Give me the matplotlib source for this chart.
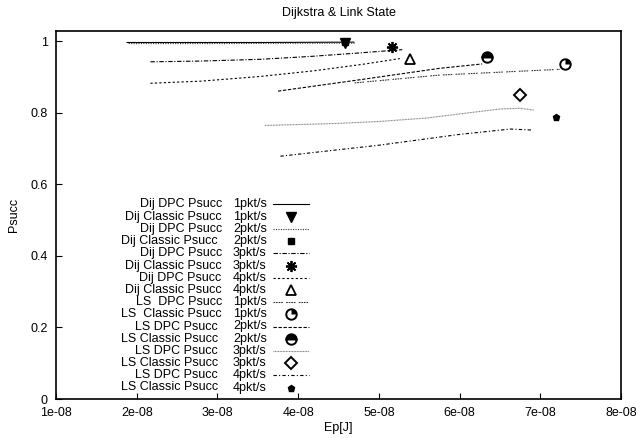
import matplotlib
matplotlib.use("Agg")
import matplotlib.pyplot as plt
from matplotlib.path import Path
from matplotlib.lines import Line2D

plt.rcParams['font.family'] = ['Liberation Sans', 'DejaVu Sans']
plt.rcParams['font.size'] = 9

# ---------------- data ----------------
dij_dpc1_x = [1.88e-8, 2.5e-8, 3.5e-8, 4.69e-8]
dij_dpc1_y = [0.997, 0.997, 0.997, 0.998]
dij_cls1_x = [4.58e-8]
dij_cls1_y = [0.996]

dij_dpc2_x = [1.90e-8, 3.0e-8, 4.0e-8, 4.70e-8]
dij_dpc2_y = [0.994, 0.994, 0.995, 0.995]
dij_cls2_x = [4.58e-8]
dij_cls2_y = [0.998]

dij_dpc3_x = [2.17e-8, 2.78e-8, 3.53e-8, 4.15e-8, 4.77e-8, 5.29e-8]
dij_dpc3_y = [0.943, 0.945, 0.950, 0.958, 0.968, 0.977]
dij_cls3_x = [5.16e-8]
dij_cls3_y = [0.985]

dij_dpc4_x = [2.17e-8, 2.8e-8, 3.53e-8, 4.2e-8, 4.8e-8, 5.26e-8]
dij_dpc4_y = [0.883, 0.889, 0.902, 0.918, 0.936, 0.952]
dij_cls4_x = [5.39e-8]
dij_cls4_y = [0.952]

ls_dpc1_x = [4.70e-8, 5.76e-8, 6.50e-8, 7.245e-8]
ls_dpc1_y = [0.884, 0.906, 0.914, 0.922]
ls_cls1_x = [7.31e-8]
ls_cls1_y = [0.936]

ls_dpc2_x = [3.75e-8, 4.77e-8, 5.76e-8, 6.28e-8]
ls_dpc2_y = [0.861, 0.893, 0.925, 0.937]
ls_cls2_x = [6.34e-8]
ls_cls2_y = [0.957]

ls_dpc3_x = [3.59e-8, 4.4e-8, 5.0e-8, 5.6e-8, 6.1e-8, 6.5e-8, 6.75e-8, 6.92e-8]
ls_dpc3_y = [0.765, 0.770, 0.776, 0.786, 0.800, 0.811, 0.813, 0.808]
ls_cls3_x = [6.75e-8]
ls_cls3_y = [0.850]

ls_dpc4_x = [3.78e-8, 5.01e-8, 6.0e-8, 6.63e-8, 6.91e-8]
ls_dpc4_y = [0.679, 0.710, 0.740, 0.755, 0.752]
ls_cls4_x = [7.20e-8]
ls_cls4_y = [0.789]

x_ticks = [1e-8, 2e-8, 3e-8, 4e-8, 5e-8, 6e-8, 7e-8, 8e-8]
x_tick_labels = ['1e-08', '2e-08', '3e-08', '4e-08', '5e-08', '6e-08', '7e-08', '8e-08']
y_ticks = [0, 0.2, 0.4, 0.6, 0.8, 1.0]
y_tick_labels = ['0', '0.2', '0.4', '0.6', '0.8', '1']

legend_names = ['Dij DPC Psucc', 'Dij Classic Psucc', 'Dij DPC Psucc', 'Dij Classic Psucc',
                'Dij DPC Psucc', 'Dij Classic Psucc', 'Dij DPC Psucc', 'Dij Classic Psucc',
                'LS  DPC Psucc', 'LS  Classic Psucc', 'LS DPC Psucc', 'LS Classic Psucc',
                'LS DPC Psucc', 'LS Classic Psucc', 'LS DPC Psucc', 'LS Classic Psucc']
legend_rates = ['1pkt/s', '1pkt/s', '2pkt/s', '2pkt/s', '3pkt/s', '3pkt/s', '4pkt/s', '4pkt/s',
                '1pkt/s', '1pkt/s', '2pkt/s', '2pkt/s', '3pkt/s', '3pkt/s', '4pkt/s', '4pkt/s']
legend_name_end_px = [222, 222, 222, 218, 222, 222, 221, 222, 222, 222, 218, 218, 218, 218, 218, 218]

# ---------------- styles ----------------
quarter = Path.wedge(0, 90)
lw = 0.8
line_styles = [
    dict(color='black', lw=lw, ls='-'),
    dict(color='#333333', lw=lw, ls=(0, (1, 1.2))),
    dict(color='black', lw=lw, ls=(0, (4, 1.5, 1, 1.5))),
    dict(color='black', lw=lw, ls=(0, (2, 2))),
    dict(color='#333333', lw=lw, ls=(0, (1.5, 0.8, 1.5, 0.8, 1.5, 0.8, 1.5, 3))),
    dict(color='black', lw=lw, ls=(0, (3, 1.5))),
    dict(color='#777777', lw=lw, ls=(0, (0.8, 0.6))),
    dict(color='black', lw=lw, ls=(0, (3, 2, 1, 2))),
]

def marker_specs(i):
    k = 'k'
    if i == 0:
        return [dict(marker='v', ms=7.5, mfc=k, mec=k)]
    if i == 1:
        return [dict(marker='s', ms=4.5, mfc=k, mec=k)]
    if i == 2:
        return [dict(marker=(8, 2, 0), ms=8, mec=k, mew=1.3)]
    if i == 3:
        return [dict(marker='^', ms=7, mfc='none', mec=k, mew=1.3)]
    if i == 4:
        return [dict(marker='o', ms=7.5, mfc='white', mec=k, mew=1.4),
                dict(marker=quarter, ms=7.5, mfc=k, mec=k, mew=0)]
    if i == 5:
        return [dict(marker='o', ms=7.5, fillstyle='top', mfc=k, mfcalt='white', mec=k, mew=1.4)]
    if i == 6:
        return [dict(marker='D', ms=6, mfc='white', mec=k, mew=1.4)]
    return [dict(marker='p', ms=4.5, mfc=k, mec=k)]

W, H = 636, 438
fig = plt.figure(figsize=(W / 100, H / 100), dpi=100)
L, R, T, B = 56, 621, 30.7, 399
ax = fig.add_axes([L / W, 1 - B / H, (R - L) / W, (B - T) / H])

dpc = [(dij_dpc1_x, dij_dpc1_y), (dij_dpc2_x, dij_dpc2_y), (dij_dpc3_x, dij_dpc3_y), (dij_dpc4_x, dij_dpc4_y),
       (ls_dpc1_x, ls_dpc1_y), (ls_dpc2_x, ls_dpc2_y), (ls_dpc3_x, ls_dpc3_y), (ls_dpc4_x, ls_dpc4_y)]
cls = [(dij_cls1_x, dij_cls1_y), (dij_cls2_x, dij_cls2_y), (dij_cls3_x, dij_cls3_y), (dij_cls4_x, dij_cls4_y),
       (ls_cls1_x, ls_cls1_y), (ls_cls2_x, ls_cls2_y), (ls_cls3_x, ls_cls3_y), (ls_cls4_x, ls_cls4_y)]

for i, (x, y) in enumerate(dpc):
    ax.plot(x, y, **line_styles[i], zorder=2)
for i, (x, y) in enumerate(cls):
    z = 2.5 if i == 1 else 3
    for spec in marker_specs(i):
        ax.plot(x, y, ls='none', zorder=z, **spec)

ax.set_xlim(1e-8, 8e-8)
ax.set_ylim(0, 1.03)
ax.set_xticks(x_ticks)
ax.set_xticklabels(x_tick_labels)
ax.set_yticks(y_ticks)
ax.set_yticklabels(y_tick_labels)
ax.tick_params(direction='in', length=4.3, width=0.8, top=False, right=False)
ax.tick_params(axis='x', pad=6)
ax.tick_params(axis='y', pad=6)
for s in ax.spines.values():
    s.set_linewidth(1.2)

ax.set_title('Dijkstra & Link State', fontsize=9, pad=10.5)
fig.text(338.5 / W, 1 - 428 / H, 'Ep[J]', ha='center', va='center', fontsize=9)
fig.text(14 / W, 1 - 215 / H, 'Psucc', ha='center', va='center', rotation=90, fontsize=9)

# ---------------- legend (gnuplot style, right-aligned text) ----------------
def axx(px):
    return (px - L) / (R - L)

def axy(py):
    return (B - py) / (B - T)

row0, dy = 204.5, 12.2
for r in range(16):
    py = row0 + dy * r
    yy = axy(py)
    ax.text(axx(legend_name_end_px[r]), yy, legend_names[r], ha='right', va='center',
            transform=ax.transAxes, fontsize=9)
    ax.text(axx(233), yy, legend_rates[r], ha='left', va='center',
            transform=ax.transAxes, fontsize=9)
    idx = r // 2
    if r % 2 == 0:
        ax.add_line(Line2D([axx(273), axx(309)], [yy, yy], transform=ax.transAxes,
                           clip_on=False, **line_styles[idx]))
    else:
        for spec in marker_specs(idx):
            ax.add_line(Line2D([axx(291)], [yy], ls='none', transform=ax.transAxes,
                               clip_on=False, **spec))

fig.savefig('out.png', dpi=100)
